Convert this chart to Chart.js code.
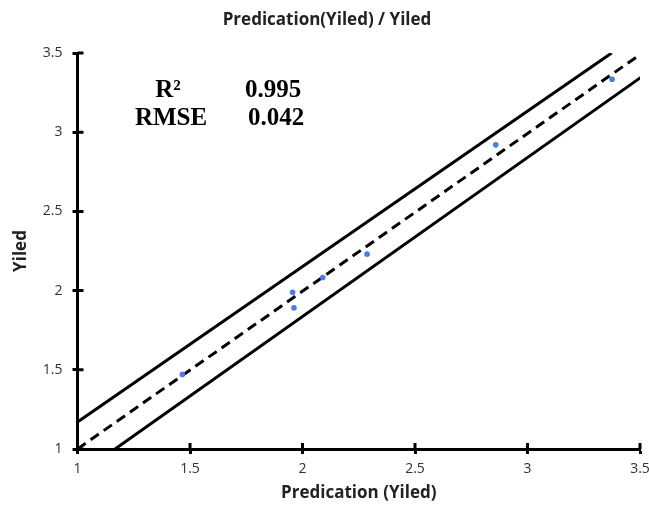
<!DOCTYPE html>
<html>
<head>
<meta charset="utf-8">
<script src="https://cdn.jsdelivr.net/npm/chart.js@4.4.1/dist/chart.umd.min.js"></script>
<style>
  html, body { margin: 0; padding: 0; background: #fff; }
  #wrap { width: 649px; height: 508px; }
</style>
</head>
<body>
<div id="wrap"><canvas id="chart" width="649" height="508"></canvas></div>
<script>
// Observed points: predication (x) vs yiled (y)
const predX = [1.466, 1.956, 1.962, 2.090, 2.287, 2.859, 3.376];
const yiledY = [1.471, 1.989, 1.891, 2.083, 2.230, 2.920, 3.334];

// 1:1 line and the two band lines (end points)
const idealX = [1, 3.49];
const idealY = [1, 3.48];
const upperX = [1, 3.374];
const upperY = [1.17, 3.5];
const lowerX = [1.167, 3.507];
const lowerY = [1, 3.349];

const axisTicks = [1, 1.5, 2, 2.5, 3, 3.5];
const statLabels = ['R\u00B2', 'RMSE'];
const statValues = ['0.995', '0.042'];

function toPoints(xs, ys) {
    return xs.map((x, i) => ({ x: x, y: ys[i] }));
}

// Draws the title, the inner half of the crossing ticks and the stats text
const extrasPlugin = {
    id: 'extras',
    afterDraw(chart) {
        const ctx = chart.ctx;
        const xs = chart.scales.x;
        const ys = chart.scales.y;
        const area = chart.chartArea;
        ctx.save();

        // inner half of tick marks
        ctx.strokeStyle = '#000';
        ctx.lineWidth = 3;
        ctx.beginPath();
        axisTicks.forEach(v => {
            const px = xs.getPixelForValue(v);
            ctx.moveTo(px, area.bottom);
            ctx.lineTo(px, area.bottom - 6);
            const py = ys.getPixelForValue(v);
            ctx.moveTo(area.left, py);
            ctx.lineTo(area.left + 6, py);
        });
        ctx.stroke();

        // title
        ctx.fillStyle = '#222';
        ctx.font = 'bold 17px "Open Sans"';
        ctx.textAlign = 'center';
        ctx.textBaseline = 'middle';
        ctx.fillText('Predication(Yiled) / Yiled', 327, 20);

        // stats block
        ctx.fillStyle = '#000';
        ctx.font = 'bold 25px "Liberation Serif"';
        ctx.textBaseline = 'alphabetic';
        ctx.textAlign = 'center';
        ctx.fillText(statLabels[0], 168, 97);
        ctx.fillText(statLabels[1], 171, 125);
        ctx.fillText(statValues[0], 273, 97);
        ctx.fillText(statValues[1], 276, 125);
        ctx.restore();
    }
};

const tickFont = { family: 'Open Sans', size: 14 };
const titleFont = { family: 'Open Sans', size: 17, weight: 'bold' };

const ctx = document.getElementById('chart').getContext('2d');
new Chart(ctx, {
    type: 'scatter',
    data: {
        datasets: [
            {
                label: 'Yiled',
                data: toPoints(predX, yiledY),
                backgroundColor: '#4a7be6',
                borderColor: '#4a7be6',
                pointRadius: 2.8,
                pointBorderWidth: 0
            },
            {
                label: '1:1',
                type: 'line',
                data: toPoints(idealX, idealY),
                borderColor: '#000',
                borderWidth: 3,
                borderDash: [10, 6],
                pointRadius: 0,
                fill: false
            },
            {
                label: 'upper',
                type: 'line',
                data: toPoints(upperX, upperY),
                borderColor: '#000',
                borderWidth: 3,
                pointRadius: 0,
                fill: false
            },
            {
                label: 'lower',
                type: 'line',
                data: toPoints(lowerX, lowerY),
                borderColor: '#000',
                borderWidth: 3,
                pointRadius: 0,
                fill: false
            }
        ]
    },
    options: {
        responsive: false,
        animation: false,
        layout: { padding: { top: 53, right: 9, left: 0, bottom: 0 } },
        plugins: {
            legend: { display: false },
            tooltip: { enabled: false }
        },
        scales: {
            x: {
                type: 'linear',
                min: 1,
                max: 3.5,
                afterBuildTicks: scale => { scale.ticks = axisTicks.map(v => ({ value: v })); },
                afterFit: scale => {
                    scale.height = 59;
                    scale.paddingLeft = 0;
                    scale.paddingRight = 0;
                },
                border: { display: true, color: '#000', width: 3 },
                grid: { drawOnChartArea: false, drawTicks: true, tickLength: 5, tickWidth: 3, tickColor: '#000', color: '#000' },
                ticks: { color: '#333', font: tickFont, padding: 7, maxRotation: 0, callback: v => String(v) },
                title: {
                    display: true,
                    text: 'Predication (Yiled)',
                    color: '#222',
                    font: titleFont,
                    padding: { top: 0, bottom: 5 }
                }
            },
            y: {
                type: 'linear',
                min: 1,
                max: 3.5,
                afterBuildTicks: scale => { scale.ticks = axisTicks.map(v => ({ value: v })); },
                afterFit: scale => {
                    scale.width = 77.5;
                    scale.paddingTop = 0;
                    scale.paddingBottom = 0;
                },
                border: { display: true, color: '#000', width: 3 },
                grid: { drawOnChartArea: false, drawTicks: true, tickLength: 5, tickWidth: 3, tickColor: '#000', color: '#000' },
                ticks: { color: '#333', font: tickFont, padding: 10, callback: v => String(v) },
                title: {
                    display: true,
                    text: 'Yiled',
                    color: '#222',
                    font: titleFont,
                    padding: { top: 11, bottom: 0 }
                }
            }
        }
    },
    plugins: [extrasPlugin]
});
</script>
</body>
</html>
